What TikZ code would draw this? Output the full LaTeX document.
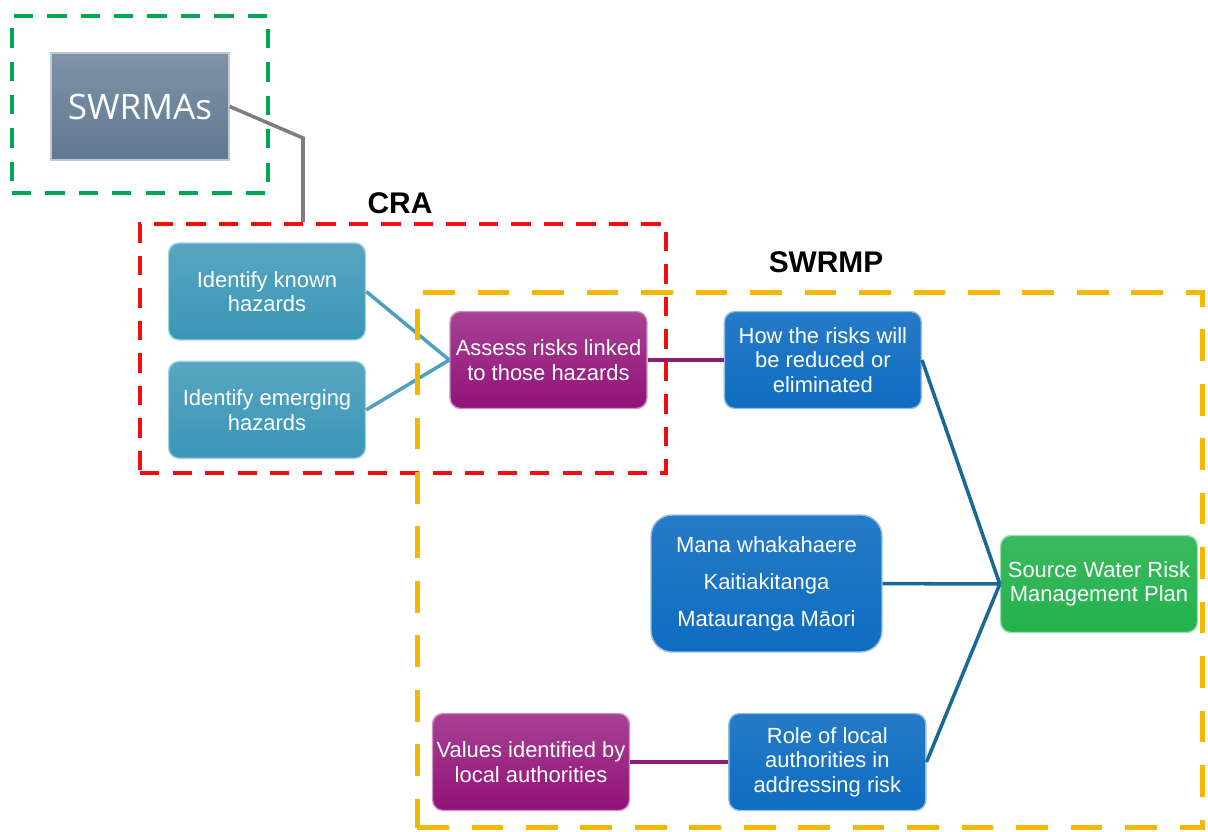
\documentclass[tikz,border=0pt]{standalone}
\usepackage{fontspec}
\setmainfont{Liberation Sans}
\newfontfamily\swfont{Open Sans}
\usepackage{tikz}
\usetikzlibrary{positioning}
\definecolor{boxteal}{RGB}{58,150,182}
\definecolor{boxpurple}{RGB}{145,18,120}
\definecolor{boxblue}{RGB}{14,108,192}
\definecolor{boxgreen}{RGB}{36,178,76}
\definecolor{boxslate}{RGB}{96,120,145}
\definecolor{linkteal}{RGB}{78,160,190}
\definecolor{linkpurple}{RGB}{140,30,120}
\definecolor{linkblue}{RGB}{25,105,150}
\definecolor{linkgray}{RGB}{125,125,125}
\definecolor{framegreen}{RGB}{0,166,80}
\definecolor{framered}{RGB}{238,16,16}
\definecolor{frameorange}{RGB}{245,184,0}

\begin{document}
\begin{tikzpicture}[
    x=0.02cm, y=-0.02cm,
    base/.style={rectangle, rounded corners=6pt, align=center, text=white, font=\fontsize{12.5}{14}\selectfont, minimum width=3.94cm, minimum height=1.94cm, inner sep=2pt, line width=0.8pt},
    hazard/.style={base, draw=boxteal!45!white, top color=boxteal!85!white, bottom color=boxteal},
    risk/.style={base, draw=boxpurple!45!white, top color=boxpurple!80!white, bottom color=boxpurple},
    action/.style={base, draw=boxblue!45!white, top color=boxblue!90!white, bottom color=boxblue},
    plan/.style={base, draw=boxgreen!45!white, top color=boxgreen!90!white, bottom color=boxgreen},
    frame/.style={rectangle, line width=2.3pt, minimum width=#1},
    grouplabel/.style={font=\fontsize{17}{20}\selectfont\bfseries, inner sep=0pt},
    link/.style={line width=2pt}
]
\useasboundingbox (0,0) rectangle (1208,832);

\node[rectangle, minimum width=3.56cm, minimum height=2.14cm, draw=boxslate!40!white, line width=0.8pt, top color=boxslate!80!white, bottom color=boxslate, text=white, font=\swfont\fontsize{20}{22}\selectfont] (swrmas) at (140,106.5) {SWRMAs};

\node[hazard] (known) at (267,291.5) {Identify known\\hazards};
\node[hazard, below=0.4cm of known] (emerging) {Identify emerging\\hazards};
\node[risk] (assess) at (548.5,360) {Assess risks linked\\to those hazards};
\node[action, right=1.52cm of assess] (how) {How the risks will\\be reduced or\\eliminated};

\node[action, rounded corners=12pt, minimum width=4.62cm, minimum height=2.74cm, font=\fontsize{12.5}{21}\selectfont] (mana) at (766.5,583.5) {Mana whakahaere\\Kaitiakitanga\\Matauranga Māori};
\node[plan] (swrmp) at (1099,584) {Source Water Risk\\Management Plan};

\node[risk] (values) at (531,762) {Values identified by\\local authorities};
\node[action, right=1.96cm of values] (role) {Role of local\\authorities in\\addressing risk};

\draw[link, draw=linkteal] (known.east) -- (assess.west);
\draw[link, draw=linkteal] (emerging.east) -- (assess.west);
\draw[link, draw=linkpurple] (assess) -- (how);
\draw[link, draw=linkpurple] (values) -- (role);
\draw[link, draw=linkblue] (how.east) -- (swrmp.west);
\draw[link, draw=linkblue] (mana) -- (swrmp);
\draw[link, draw=linkblue] (role.east) -- (swrmp.west);

% dashed group frames
\node[frame=5.12cm, minimum height=3.54cm, draw=framegreen, dash pattern=on 11pt off 8pt] (swrmaframe) at (140,104.5) {};
\node[frame=10.52cm, minimum height=4.98cm, draw=framered, dash pattern=on 11pt off 7.5pt] (craframe) at (403,348.5) {};
\node[frame=15.72cm, minimum height=10.72cm, draw=frameorange, line width=2.8pt, dash pattern=on 18pt off 13pt] (swrmpframe) at (810,560) {};

\node[grouplabel] (cra) at (400,203) {CRA};
\node[grouplabel] (swrmplabel) at (826,262) {SWRMP};

\coordinate (bend) at (303,138);
\draw[link, draw=linkgray] (swrmas.east) -- (bend) -- (bend |- craframe.north);

\end{tikzpicture}
\end{document}
